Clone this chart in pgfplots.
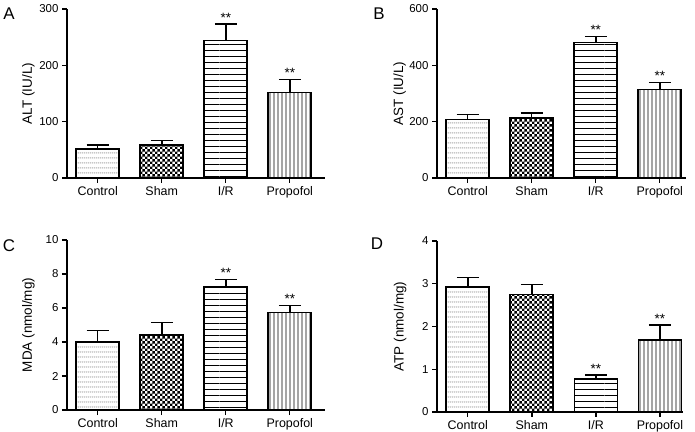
\documentclass[border=0pt]{standalone}
\usepackage{fontspec}
\setmainfont{Liberation Sans}
\usepackage{pgfplots}
\pgfplotsset{compat=1.18}
\usetikzlibrary{patterns}

\pgfdeclarepatternformonly{mydots}{\pgfqpoint{0bp}{0bp}}{\pgfqpoint{2.2bp}{4.5bp}}{\pgfqpoint{2.2bp}{4.5bp}}{\pgfpathcircle{\pgfqpoint{1.1bp}{2.25bp}}{0.6bp}\pgfusepath{fill}}
\pgfdeclarepatternformonly{mychecker}{\pgfqpoint{0bp}{0bp}}{\pgfqpoint{5.4bp}{5.4bp}}{\pgfqpoint{5.4bp}{5.4bp}}{\pgfpathrectangle{\pgfqpoint{0bp}{0bp}}{\pgfqpoint{2.7bp}{2.7bp}}\pgfpathrectangle{\pgfqpoint{2.7bp}{2.7bp}}{\pgfqpoint{2.7bp}{2.7bp}}\pgfusepath{fill}}
\pgfdeclarepatternformonly{myhlines}{\pgfqpoint{0bp}{0bp}}{\pgfqpoint{55bp}{5.5bp}}{\pgfqpoint{55bp}{5.5bp}}{\pgfsetlinewidth{0.9bp}\pgfpathmoveto{\pgfqpoint{0bp}{2.75bp}}\pgfpathlineto{\pgfqpoint{55bp}{2.75bp}}\pgfusepath{stroke}}
\pgfdeclarepatternformonly{myvlines}{\pgfqpoint{0bp}{0bp}}{\pgfqpoint{4.4bp}{52.8bp}}{\pgfqpoint{4.4bp}{52.8bp}}{\pgfsetlinewidth{0.9bp}\pgfpathmoveto{\pgfqpoint{2.2bp}{0bp}}\pgfpathlineto{\pgfqpoint{2.2bp}{52.8bp}}\pgfusepath{stroke}}

\tikzset{stars/.style={font=\fontsize{13.5}{14}\selectfont, anchor=south, inner sep=1.5bp}}

\pgfplotsset{
  panel/.style={
    scale only axis, anchor=south west,
    xmin=-0.48, ymin=0,
    axis lines*=left,
    axis line style={line width=1.4bp, black},
    xtick={0,1,2,3}, xticklabels={Control,Sham,I/R,Propofol},
    tick style={line width=1.4bp, black},
    major tick length=5bp, tick align=outside,
    minor tick num=0,
    xticklabel style={font=\fontsize{12.5}{14}\selectfont},
    yticklabel style={font=\fontsize{11.5}{13}\selectfont},
    ylabel style={font=\fontsize{13.5}{15}\selectfont, at={(axis description cs:-0.15,0.5)}, anchor=center},
    /pgf/number format/assume math mode=true,
    clip=false,
    every axis plot/.append style={ybar, bar width=43bp, bar shift=0pt, draw=black, line width=1.7bp},
  },
  myerr/.style={error bars/.cd, y dir=plus, y explicit,
      error bar style={line width=1.5bp, black, solid},
      error mark options={rotate=90, line width=1.5bp, mark size=11bp, black, solid}},
}

\begin{document}
\begin{tikzpicture}
\useasboundingbox (0bp,0bp) rectangle (695bp,432bp);

% Panel A
\begin{axis}[panel, at={(67bp,254bp)}, width=258bp, height=169bp, xmax=3.55, ymax=300,
  ytick={0,100,200,300}, ylabel={ALT (IU/L)}]
\addplot[pattern=mydots, pattern color=black!75, myerr] coordinates {(0,52) +- (0,7)};
\addplot[pattern=mychecker, pattern color=black, myerr] coordinates {(1,58) +- (0,9)};
\addplot[pattern=myhlines, pattern color=black, myerr] coordinates {(2,244) +- (0,29)};
\addplot[pattern=myvlines, pattern color=black, myerr] coordinates {(3,152) +- (0,23)};
\node[stars] at (axis cs:2,273) {**};
\node[stars] at (axis cs:3,175) {**};
\end{axis}

% Panel B
\begin{axis}[panel, at={(437bp,254bp)}, width=249bp, height=169bp, xmax=3.41, ymax=600,
  ytick={0,200,400,600}, ylabel={AST (IU/L)}]
\addplot[pattern=mydots, pattern color=black!75, myerr] coordinates {(0,208) +- (0,17)};
\addplot[pattern=mychecker, pattern color=black, myerr] coordinates {(1,214) +- (0,16)};
\addplot[pattern=myhlines, pattern color=black, myerr] coordinates {(2,481) +- (0,21)};
\addplot[pattern=myvlines, pattern color=black, myerr] coordinates {(3,314) +- (0,25)};
\node[stars] at (axis cs:2,502) {**};
\node[stars] at (axis cs:3,339) {**};
\end{axis}

% Panel C
\begin{axis}[panel, at={(67bp,22bp)}, width=258bp, height=170bp, xmax=3.55, ymax=10,
  ytick={0,2,4,6,8,10}, ylabel={MDA (nmol/mg)}]
\addplot[pattern=mydots, pattern color=black!75, myerr] coordinates {(0,4.0) +- (0,0.67)};
\addplot[pattern=mychecker, pattern color=black, myerr] coordinates {(1,4.43) +- (0,0.71)};
\addplot[pattern=myhlines, pattern color=black, myerr] coordinates {(2,7.25) +- (0,0.42)};
\addplot[pattern=myvlines, pattern color=black, myerr] coordinates {(3,5.73) +- (0,0.41)};
\node[stars] at (axis cs:2,7.67) {**};
\node[stars] at (axis cs:3,6.14) {**};
\end{axis}

% Panel D
\begin{axis}[panel, at={(437bp,20bp)}, width=246bp, height=171bp, xmax=3.36, ymax=4,
  ytick={0,1,2,3,4}, ylabel={ATP (nmol/mg)}]
\addplot[pattern=mydots, pattern color=black!75, myerr] coordinates {(0,2.92) +- (0,0.23)};
\addplot[pattern=mychecker, pattern color=black, myerr] coordinates {(1,2.75) +- (0,0.23)};
\addplot[pattern=myhlines, pattern color=black, myerr] coordinates {(2,0.77) +- (0,0.09)};
\addplot[pattern=myvlines, pattern color=black, myerr] coordinates {(3,1.69) +- (0,0.34)};
\node[stars] at (axis cs:2,0.86) {**};
\node[stars] at (axis cs:3,2.03) {**};
\end{axis}

\node[font=\fontsize{17}{18}\selectfont] at (9bp,418bp) {A};
\node[font=\fontsize{17}{18}\selectfont] at (379bp,418bp) {B};
\node[font=\fontsize{17}{18}\selectfont] at (9bp,186bp) {C};
\node[font=\fontsize{17}{18}\selectfont] at (377bp,188bp) {D};
\end{tikzpicture}
\end{document}
